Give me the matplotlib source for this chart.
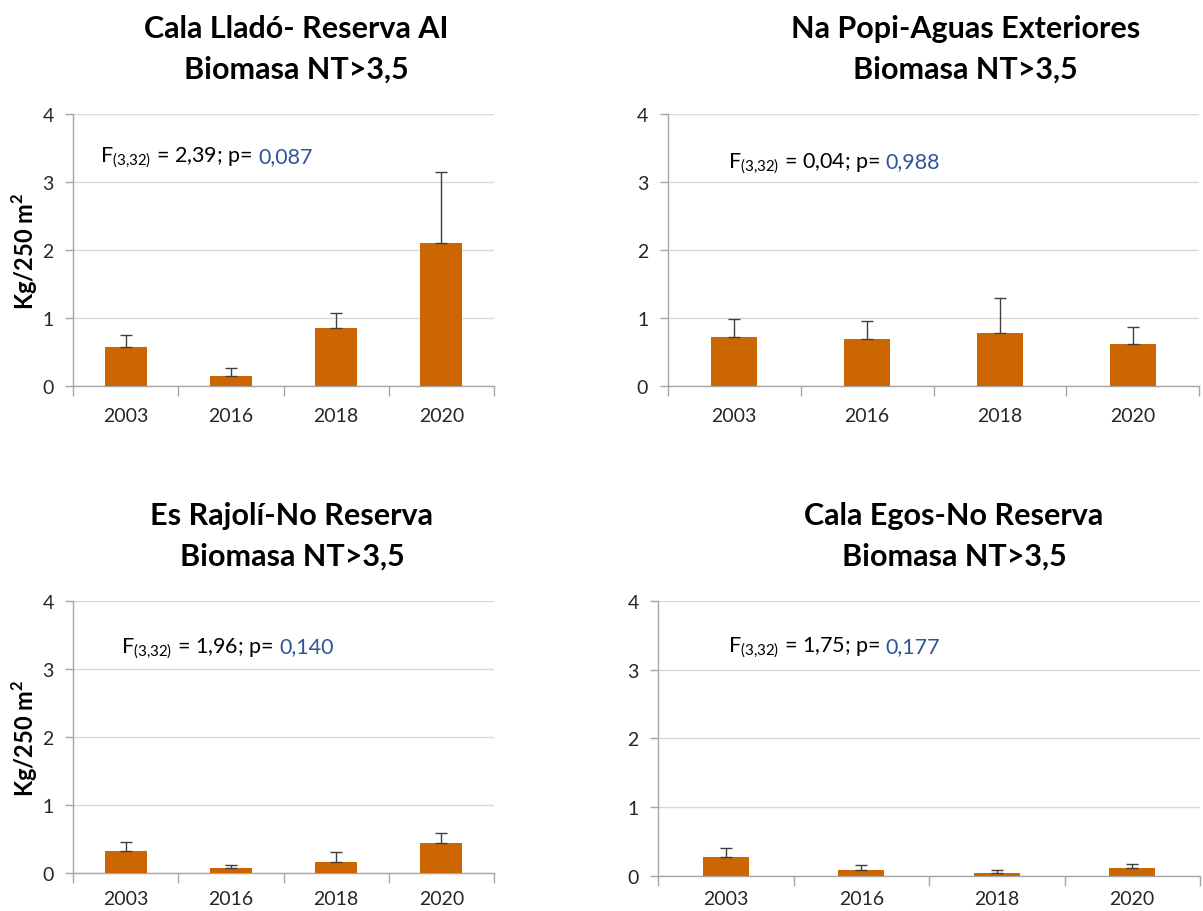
import numpy as np
import matplotlib
matplotlib.use("Agg")
import matplotlib.pyplot as plt
from matplotlib.ticker import FixedLocator

plt.rcParams["font.family"] = ["Lato", "DejaVu Sans"]
plt.rcParams["mathtext.fontset"] = "custom"
plt.rcParams["mathtext.rm"] = "Lato"
plt.rcParams["mathtext.bf"] = "Lato:bold"

years = ["2003", "2016", "2018", "2020"]

titles = [
    "Cala Lladó- Reserva AI\nBiomasa NT>3,5",
    "Na Popi-Aguas Exteriores\nBiomasa NT>3,5",
    "Es Rajolí-No Reserva\nBiomasa NT>3,5",
    "Cala Egos-No Reserva\nBiomasa NT>3,5",
]

# means and upper error (mean + SE)
llado_mean = [0.57, 0.15, 0.85, 2.10]
llado_err = [0.18, 0.12, 0.22, 1.05]
popi_mean = [0.72, 0.69, 0.78, 0.62]
popi_err = [0.27, 0.27, 0.52, 0.25]
rajoli_mean = [0.33, 0.07, 0.16, 0.44]
rajoli_err = [0.13, 0.05, 0.15, 0.15]
egos_mean = [0.28, 0.09, 0.04, 0.12]
egos_err = [0.13, 0.07, 0.04, 0.05]

f_vals = ["2,39", "0,04", "1,96", "1,75"]
p_vals = ["0,087", "0,988", "0,140", "0,177"]

means = [llado_mean, popi_mean, rajoli_mean, egos_mean]
errs = [llado_err, popi_err, rajoli_err, egos_err]

# layout: [left, bottom, width, height] in figure fractions
positions = [
    [0.0607, 0.5757, 0.350, 0.298],
    [0.555, 0.5757, 0.442, 0.298],
    [0.0607, 0.0417, 0.350, 0.298],
    [0.547, 0.0384, 0.4505, 0.3015],
]
bar_widths = [0.40, 0.35, 0.40, 0.34]
title_x = [0.53, 0.56, 0.52, 0.546]
ann_x = [0.064, 0.113, 0.114, 0.129]
ann_y = [3.3, 3.22, 3.25, 3.26]
xlab_pad = [15, 15, 12, 10]

BAR = "#CC6600"
GRID = "#D9D9D9"
AXC = "#A6A6A6"
BLUE = "#2F5597"

fig = plt.figure(figsize=(12.03, 9.12), dpi=100)

for i in range(4):
    ax = fig.add_axes(positions[i])
    x = np.arange(len(years))
    ax.bar(x, means[i], width=bar_widths[i], color=BAR, zorder=3,
           edgecolor="none")
    ax.errorbar(x, means[i], yerr=[np.zeros(4), errs[i]], fmt="none",
                ecolor="#404040", elinewidth=1.0, capsize=4, capthick=1.0,
                zorder=4)
    ax.set_xlim(-0.5, 3.5)
    ax.set_ylim(0, 4)
    ax.set_yticks([0, 1, 2, 3, 4])
    ax.set_yticklabels(["0", "1", "2", "3", "4"])
    ax.set_xticks(x)
    ax.set_xticklabels(years)
    ax.xaxis.set_minor_locator(FixedLocator([-0.5, 0.5, 1.5, 2.5, 3.5]))
    ax.tick_params(axis="x", which="major", length=0, pad=xlab_pad[i],
                   labelsize=14, labelcolor="#262626")
    ax.tick_params(axis="x", which="minor", length=7, color=AXC, width=1)
    ax.tick_params(axis="y", length=6, color=AXC, width=1, pad=8,
                   labelsize=14, labelcolor="#262626")
    ax.grid(axis="y", color=GRID, linewidth=1, zorder=0)
    for s in ["top", "right"]:
        ax.spines[s].set_visible(False)
    for s in ["left", "bottom"]:
        ax.spines[s].set_color(AXC)
        ax.spines[s].set_linewidth(1)
    ax.set_title(titles[i], x=title_x[i], fontsize=22, fontweight="bold",
                 pad=26, linespacing=1.55)
    if i in (0, 2):
        ax.set_ylabel("Kg/250 m$^{\\mathbf{2}}$", fontsize=17,
                      fontweight="bold")
        ax.yaxis.set_label_coords(-0.078, 0.5)

    t1 = ax.text(ann_x[i], ann_y[i],
                 "$\\mathregular{F_{(3{,}32)}}$ = " + f_vals[i] + "; p=",
                 fontsize=15.5, va="baseline", ha="left",
                 transform=ax.get_yaxis_transform())
    ax.annotate(p_vals[i], xy=(1, ann_y[i]), xycoords=(t1, "data"),
                xytext=(4, 0), textcoords="offset points",
                fontsize=15.5, color=BLUE, va="baseline", ha="left")

fig.savefig("out.png", dpi=100)
